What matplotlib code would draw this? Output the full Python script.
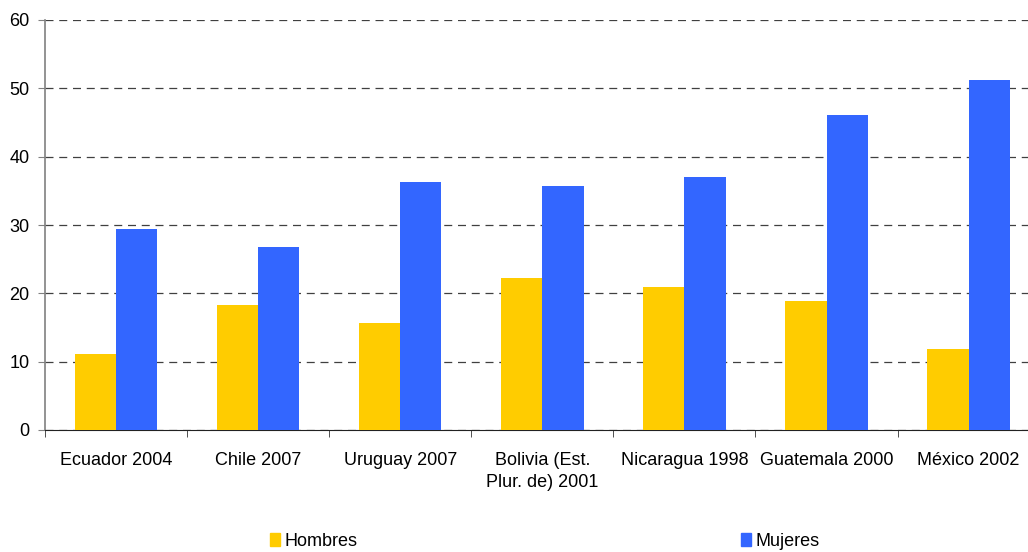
import matplotlib
matplotlib.use("Agg")
import matplotlib.pyplot as plt
import numpy as np
from matplotlib.patches import Patch

plt.rcParams['font.family'] = ['Liberation Sans', 'DejaVu Sans']

# Data
paises = ['Ecuador 2004', 'Chile 2007', 'Uruguay 2007', 'Bolivia (Est.\nPlur. de) 2001',
          'Nicaragua 1998', 'Guatemala 2000', 'México 2002']
hombres = [11.1, 18.3, 15.7, 22.2, 20.9, 18.9, 11.9]
mujeres = [29.4, 26.8, 36.3, 35.7, 37.0, 46.1, 51.2]
yticks = [0, 10, 20, 30, 40, 50, 60]

col_h = '#FFCC00'
col_m = '#3366FF'

W, H = 1028, 552
fig = plt.figure(figsize=(W / 100, H / 100), dpi=100)
ax = fig.add_axes([45 / W, 1 - 430 / H, 7 * 142.1 / W, 410 / H])

x = np.arange(len(paises))
bw = 0.29
ax.bar(x - bw / 2, hombres, bw, color=col_h, zorder=3)
ax.bar(x + bw / 2, mujeres, bw, color=col_m, zorder=3)

ax.set_xlim(-0.5, len(paises) - 0.5)
ax.set_ylim(0, 60)
ax.set_yticks(yticks)
ax.yaxis.grid(True, linestyle=(0, (6.4, 4.6)), color='#404040', linewidth=0.9, zorder=0)
ax.set_axisbelow(True)

ax.set_xticks(x)
ax.set_xticklabels(paises, fontsize=13, linespacing=1.4)
ax.set_xticks(np.arange(len(paises) + 1) - 0.5, minor=True)
ax.tick_params(axis='x', which='major', length=0, pad=15.5)
ax.tick_params(axis='x', which='minor', length=5, color='#333333')
ax.tick_params(axis='y', labelsize=13, length=5, color='#808080', pad=6)

for s in ['top', 'right']:
    ax.spines[s].set_visible(False)
ax.spines['left'].set_color('#808080')
ax.spines['left'].set_linewidth(1.2)
ax.spines['bottom'].set_color('#222222')

# legend sits at the very bottom (cut off in the original, kept just inside here)
handles = [Patch(color=col_h, label='Hombres'), Patch(color=col_m, label='Mujeres')]
fig.legend(handles=handles, loc='upper left', bbox_to_anchor=(270 / W, 1 - 533 / H),
           ncol=2, frameon=False, fontsize=13, handlelength=0.55, handleheight=0.7,
           handletextpad=0.28, columnspacing=21.2, borderpad=0, borderaxespad=0)

fig.savefig('out.png', dpi=100)
